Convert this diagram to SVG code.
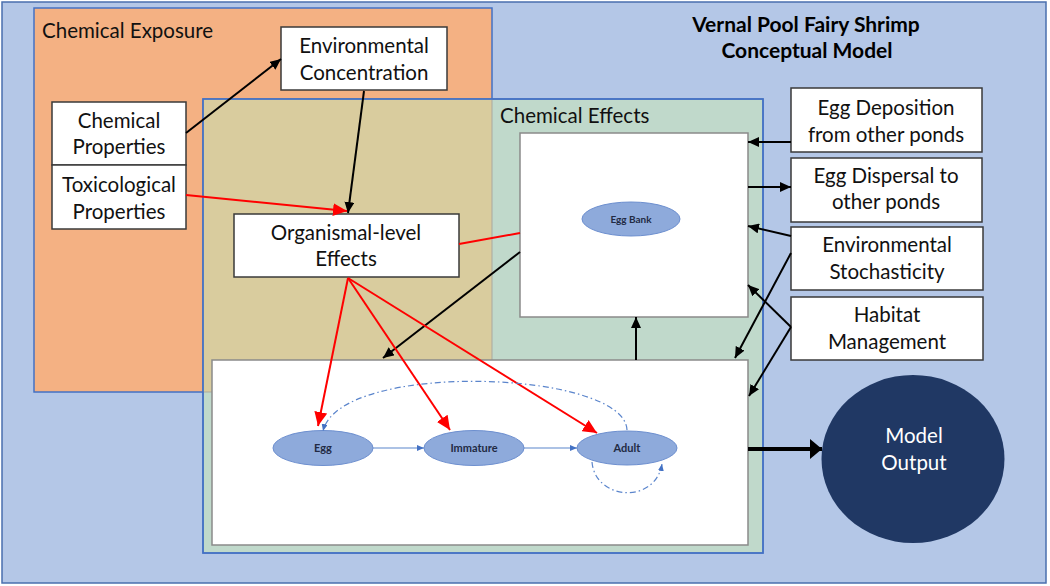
<svg xmlns="http://www.w3.org/2000/svg" width="1050" height="586" viewBox="0 0 1050 586">
<defs>
<style>
.lbl{font-family:Lato,"Liberation Sans",sans-serif;font-size:20.5px;fill:#111;text-anchor:middle}
.hdr{font-family:Lato,"Liberation Sans",sans-serif;font-size:20.5px;fill:#111}
.ttl{font-family:Lato,"Liberation Sans",sans-serif;font-size:21px;font-weight:bold;fill:#000;text-anchor:middle}
.box{fill:#fff;stroke:#3a3a3a;stroke-width:1.5}
.pane{fill:#fff;stroke:#8a8a8a;stroke-width:1.5}
.ell{fill:#8eaadb;stroke:#6d8fcf;stroke-width:1}
.etx{font-family:Lato,"Liberation Sans",sans-serif;font-size:11px;font-weight:bold;fill:#222a44;text-anchor:middle}
.blk{stroke:#000;stroke-width:2;fill:none;marker-end:url(#ab)}
.red{stroke:#ff0000;stroke-width:2;fill:none;marker-end:url(#ar)}
.blu{stroke:#5b85cc;stroke-width:1.2;fill:none;marker-end:url(#abl)}
.dd{stroke:#5b85cc;stroke-width:1.2;fill:none;stroke-dasharray:6 3 1.5 3;marker-end:url(#abl)}
</style>
<marker id="ab" markerUnits="userSpaceOnUse" markerWidth="11" markerHeight="10" refX="11" refY="5" orient="auto"><path d="M0,0 L11,5 L0,10 z" fill="#000"/></marker>
<marker id="ar" markerUnits="userSpaceOnUse" markerWidth="14" markerHeight="13" refX="14" refY="6.5" orient="auto"><path d="M0,0 L14,6.5 L0,13 z" fill="#ff0000"/></marker>
<marker id="abl" markerUnits="userSpaceOnUse" markerWidth="7" markerHeight="6" refX="7" refY="3" orient="auto"><path d="M0,0 L7,3 L0,6 z" fill="#4472c4"/></marker>
<marker id="athick" markerUnits="userSpaceOnUse" markerWidth="12" markerHeight="20" refX="12" refY="10" orient="auto"><path d="M0,0 L12,10 L0,20 z" fill="#000"/></marker>
</defs>

<g id="background">
<rect x="2" y="2" width="1044" height="581" fill="#b4c7e7" stroke="#4a6fae" stroke-width="1.5"/>
</g>

<g id="chemical-exposure">
<rect x="34" y="8" width="458" height="384" fill="#f4b183" stroke="#4472c4" stroke-width="1.5"/>
<text class="hdr" x="42" y="38">Chemical Exposure</text>
</g>

<g id="chemical-effects">
<rect x="203" y="99" width="560" height="454" fill="#c0d9cb" stroke="#4472c4" stroke-width="1.5"/>
<rect x="203.75" y="99.75" width="288.25" height="292.25" fill="#d9cc9e"/>
<line x1="492" y1="100" x2="492" y2="392" stroke="#a9a9a0" stroke-width="1"/>
<line x1="204" y1="392" x2="492" y2="392" stroke="#a9a9a0" stroke-width="1"/>
<rect x="203" y="99" width="560" height="454" fill="none" stroke="#4472c4" stroke-width="1.5"/>
<text class="hdr" x="500" y="123">Chemical Effects</text>
</g>

<g id="title">
<text class="ttl" x="806" y="32">Vernal Pool Fairy Shrimp</text>
<text class="ttl" x="807" y="58">Conceptual Model</text>
</g>

<g id="environmental-concentration">
<rect class="box" x="281" y="27" width="166" height="63"/>
<text class="lbl" x="364" y="53">Environmental</text>
<text class="lbl" x="364" y="80">Concentration</text>
</g>

<g id="chemical-properties">
<rect class="box" x="52" y="102" width="134" height="63"/>
<text class="lbl" x="119" y="128">Chemical</text>
<text class="lbl" x="119" y="154">Properties</text>
</g>

<g id="toxicological-properties">
<rect class="box" x="52" y="165" width="134" height="64"/>
<text class="lbl" x="119" y="192">Toxicological</text>
<text class="lbl" x="119" y="219">Properties</text>
</g>

<g id="organismal-effects">
<rect class="box" x="234" y="214" width="225" height="63"/>
<text class="lbl" x="346" y="240">Organismal-level</text>
<text class="lbl" x="346" y="266">Effects</text>
</g>

<g id="egg-bank-pane">
<rect class="pane" x="520" y="133" width="228" height="184"/>
</g>

<g id="egg-bank">
<ellipse class="ell" cx="631" cy="219" rx="49" ry="17"/>
<text class="etx" x="631" y="223" style="font-size:10px">Egg Bank</text>
</g>

<g id="life-cycle-pane">
<rect class="pane" x="212" y="360" width="536" height="185"/>
</g>

<g id="egg">
<ellipse class="ell" cx="323" cy="448" rx="50" ry="17.5"/>
<text class="etx" x="323" y="452">Egg</text>
</g>

<g id="immature">
<ellipse class="ell" cx="474" cy="448" rx="50" ry="17.5"/>
<text class="etx" x="474" y="452">Immature</text>
</g>

<g id="adult">
<ellipse class="ell" cx="627" cy="448" rx="50" ry="17"/>
<text class="etx" x="627" y="452">Adult</text>
</g>

<g id="egg-deposition">
<rect class="box" x="791" y="88" width="191" height="64"/>
<text class="lbl" x="886" y="115">Egg Deposition</text>
<text class="lbl" x="886" y="142">from other ponds</text>
</g>

<g id="egg-dispersal">
<rect class="box" x="791" y="158" width="191" height="64"/>
<text class="lbl" x="886" y="183">Egg Dispersal to</text>
<text class="lbl" x="886" y="209">other ponds</text>
</g>

<g id="environmental-stochasticity">
<rect class="box" x="791" y="227" width="192" height="63"/>
<text class="lbl" x="887" y="252">Environmental</text>
<text class="lbl" x="887" y="279">Stochasticity</text>
</g>

<g id="habitat-management">
<rect class="box" x="791" y="297" width="192" height="63"/>
<text class="lbl" x="887" y="322">Habitat</text>
<text class="lbl" x="887" y="349">Management</text>
</g>

<g id="model-output">
<ellipse cx="913" cy="459" rx="91.5" ry="84" fill="#203864"/>
<text class="lbl" x="914" y="443" style="fill:#fff">Model</text>
<text class="lbl" x="914" y="470" style="fill:#fff">Output</text>
</g>

<g id="connectors">
<line class="blk" x1="186" y1="133" x2="281" y2="59"/>
<line class="blk" x1="364" y1="91" x2="348" y2="213"/>
<line class="red" x1="186" y1="195" x2="347" y2="211"/>
<line x1="459" y1="244" x2="520" y2="233" stroke="#ff0000" stroke-width="2"/>
<line class="blk" x1="520" y1="252" x2="383" y2="358"/>
<line class="red" x1="348" y1="278" x2="318" y2="426"/>
<line class="red" x1="348" y1="278" x2="450" y2="430"/>
<line class="red" x1="348" y1="278" x2="597" y2="433"/>
<line class="blk" x1="636" y1="360" x2="636" y2="317"/>
<line class="blk" x1="791" y1="142" x2="748" y2="142"/>
<line class="blk" x1="748" y1="187" x2="791" y2="187"/>
<line class="blk" x1="791" y1="236" x2="748" y2="226"/>
<line class="blk" x1="791" y1="253" x2="735" y2="358"/>
<line class="blk" x1="791" y1="327" x2="748" y2="285"/>
<line class="blk" x1="791" y1="327" x2="749" y2="396"/>
<line x1="748" y1="449" x2="822" y2="449" stroke="#000" stroke-width="4" marker-end="url(#athick)"/>
<line class="blu" x1="373" y1="448" x2="424" y2="448"/>
<line class="blu" x1="524" y1="448" x2="577" y2="448"/>
<path class="dd" d="M627,430 C625,370 340,360 323,431"/>
<path class="dd" d="M592,462 C595,500 655,505 662,464"/>
</g>
</svg>
